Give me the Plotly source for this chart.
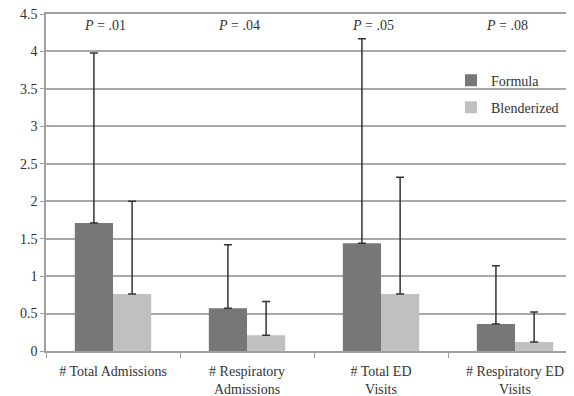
import plotly.graph_objects as go

categories = ["# Total Admissions", "# Respiratory<br>Admissions", "# Total ED<br>Visits", "# Respiratory ED<br>Visits"]
formula = [1.71, 0.57, 1.44, 0.36]
formula_sd = [2.27, 0.85, 2.73, 0.78]
blender = [0.76, 0.21, 0.76, 0.12]
blender_sd = [1.24, 0.45, 1.56, 0.40]
p_labels = ["<i>P</i> = .01", "<i>P</i> = .04", "<i>P</i> = .05", "<i>P</i> = .08"]
y_ticks = [0, 0.5, 1, 1.5, 2, 2.5, 3, 3.5, 4, 4.5]
y_ticktext = ["0", "0.5", "1", "1.5", "2", "2.5", "3", "3.5", "4", "4.5"]

FONT = "Liberation Serif"
TXT = "#333333"

fig = go.Figure()
fig.add_trace(go.Bar(
    x=categories, y=formula, name="Formula", marker_color="#777777", marker_line_width=0,
    legendgroup="a",
    error_y=dict(type="data", array=formula_sd, arrayminus=[0]*4, symmetric=False,
                 color="#333333", thickness=1.5, width=4)))
fig.add_trace(go.Bar(
    x=categories, y=blender, name="Blenderized", marker_color="#c0c0c0", marker_line_width=0,
    legendgroup="b",
    error_y=dict(type="data", array=blender_sd, arrayminus=[0]*4, symmetric=False,
                 color="#333333", thickness=1.5, width=4)))

for c, p in zip(categories, p_labels):
    fig.add_annotation(x=c, y=4.34, text=p, showarrow=False, xshift=-8,
                       font=dict(family=FONT, size=14, color=TXT))

fig.update_layout(
    width=566, height=388,
    margin=dict(l=38, r=0, t=6, b=45),
    paper_bgcolor="white", plot_bgcolor="white",
    barmode="group", bargap=0.43, bargroupgap=0,
    font=dict(family=FONT, size=14, color=TXT),
    legend=dict(x=0.767, y=0.85, xanchor="left", yanchor="top", tracegroupgap=6,
                itemwidth=30,
                font=dict(family=FONT, size=14, color=TXT), bgcolor="rgba(0,0,0,0)"),
)
fig.update_xaxes(range=[-0.5, 3.44], showline=True, mirror=True, linecolor="#a0a0a0", linewidth=1.5,
                 ticks="outside", tickson="boundaries", ticklen=5, tickcolor="#a0a0a0",
                 ticklabelstandoff=6,
                 showgrid=False, automargin=False, tickfont=dict(family=FONT, size=14, color=TXT))
fig.update_yaxes(range=[0, 4.5], tickvals=y_ticks, ticktext=y_ticktext, ticklabeloverflow="allow",
                 showline=True, linecolor="#a0a0a0", linewidth=1.5,
                 gridcolor="#a8a8a8", gridwidth=1.5, ticks="outside", ticklen=4, tickcolor="#a0a0a0",
                 zeroline=False, automargin=False, tickfont=dict(family=FONT, size=14, color=TXT))

fig.write_html("out.html")
